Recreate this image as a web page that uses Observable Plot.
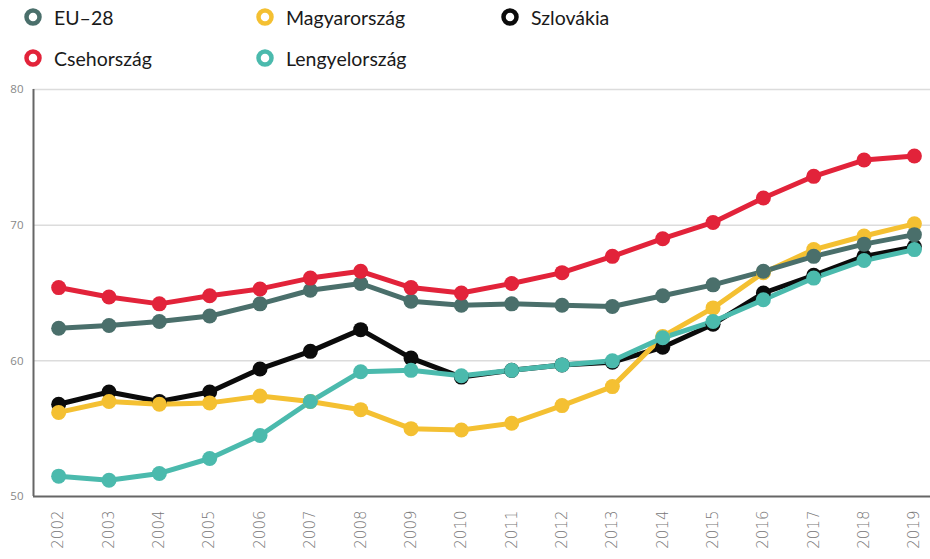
<!DOCTYPE html>
<html>
<head>
<meta charset="utf-8">
<script src="https://cdn.jsdelivr.net/npm/d3@7"></script>
<script src="https://cdn.jsdelivr.net/npm/@observablehq/plot@0.6"></script>
<style>
  html, body { margin: 0; padding: 0; background: #fff; }
  #wrap { position: relative; width: 930px; height: 559px; overflow: hidden; }
  #legend { position: absolute; left: 0; top: 0; width: 930px; height: 80px; font-family: Lato, sans-serif; font-size: 19.5px; color: #1a1a1a; }
  .item { position: absolute; display: flex; align-items: center; white-space: nowrap; }
  .item svg { margin-right: 12px; }
  #chart { position: absolute; left: 0; top: 80px; }
</style>
</head>
<body>
<div id="wrap">
  <div id="legend"></div>
  <div id="chart"></div>
</div>
<script>
const years = [2002,2003,2004,2005,2006,2007,2008,2009,2010,2011,2012,2013,2014,2015,2016,2017,2018,2019];
const seriesNames = ["EU–28", "Csehország", "Magyarország", "Lengyelország", "Szlovákia"];
const seriesColors = ["#4a6f6b", "#e2233a", "#f4c032", "#4bbaad", "#0b0b0b"];
const eu28      = [62.4,62.6,62.9,63.3,64.2,65.2,65.7,64.4,64.1,64.2,64.1,64.0,64.8,65.6,66.6,67.7,68.6,69.3];
const cz        = [65.4,64.7,64.2,64.8,65.3,66.1,66.6,65.4,65.0,65.7,66.5,67.7,69.0,70.2,72.0,73.6,74.8,75.1];
const hu        = [56.2,57.0,56.8,56.9,57.4,57.0,56.4,55.0,54.9,55.4,56.7,58.1,61.8,63.9,66.5,68.2,69.2,70.1];
const pl        = [51.5,51.2,51.7,52.8,54.5,57.0,59.2,59.3,58.9,59.3,59.7,60.0,61.7,62.9,64.5,66.1,67.4,68.2];
const sk        = [56.8,57.7,57.0,57.7,59.4,60.7,62.3,60.2,58.8,59.3,59.7,59.9,61.0,62.7,65.0,66.3,67.7,68.4];
const yTicks = [50, 60, 70, 80];
// drawing order: back to front
const drawOrder = ["Szlovákia", "Magyarország", "EU–28", "Lengyelország", "Csehország"];

const valuesByName = {"EU–28": eu28, "Csehország": cz, "Magyarország": hu, "Lengyelország": pl, "Szlovákia": sk};
const colorOf = Object.fromEntries(seriesNames.map((n, i) => [n, seriesColors[i]]));

const rows = [];
for (const name of drawOrder) {
  valuesByName[name].forEach((v, i) => rows.push({name, year: years[i], value: v}));
}

// Legend
const legendLayout = [
  {name: "EU–28", left: 24, top: 17},
  {name: "Magyarország", left: 256, top: 17},
  {name: "Szlovákia", left: 501, top: 17},
  {name: "Csehország", left: 24, top: 58},
  {name: "Lengyelország", left: 256, top: 58}
];
const legend = document.getElementById("legend");
for (const l of legendLayout) {
  const div = document.createElement("div");
  div.className = "item";
  div.style.left = l.left + "px";
  div.style.top = (l.top - 12) + "px";
  div.style.height = "24px";
  div.innerHTML = `<svg width="18" height="18"><circle cx="9" cy="9" r="6.5" fill="#fff" stroke="${colorOf[l.name]}" stroke-width="4.5"/></svg><span>${l.name}</span>`;
  legend.appendChild(div);
}

const chart = Plot.plot({
  width: 930,
  height: 479,
  marginTop: 9,
  marginBottom: 63,
  marginLeft: 33,
  marginRight: 0,
  x: {domain: [2001.5, 2019.32], axis: null},
  y: {domain: [50, 80], axis: null},
  color: {domain: seriesNames, range: seriesColors},
  marks: [
    Plot.ruleY(yTicks.filter(d => d > 50), {stroke: "#dcdcdc", strokeWidth: 1.5}),
    Plot.ruleY([50], {stroke: "#666", strokeWidth: 2}),
    Plot.ruleX([2001.5], {y1: 50, y2: 80, stroke: "#666", strokeWidth: 2}),
    Plot.text(yTicks, {x: 2001.5, y: d => d, text: d => String(d), dx: -10, textAnchor: "end", fill: "#888", fontSize: 11.5, fontFamily: "Open Sans, sans-serif"}),
    Plot.text(years, {x: d => d, y: 50, text: d => String(d), rotate: -90, textAnchor: "end", dy: 14, fill: "#777", fontSize: 15, fontFamily: "DejaVu Sans, sans-serif", fontWeight: 300}),
    Plot.line(rows, {x: "year", y: "value", z: "name", stroke: "name", strokeWidth: 5, strokeLinejoin: "round", strokeLinecap: "round"}),
    Plot.dot(rows, {x: "year", y: "value", fill: "name", r: 7.5, stroke: null})
  ]
});
document.getElementById("chart").appendChild(chart);
</script>
</body>
</html>
